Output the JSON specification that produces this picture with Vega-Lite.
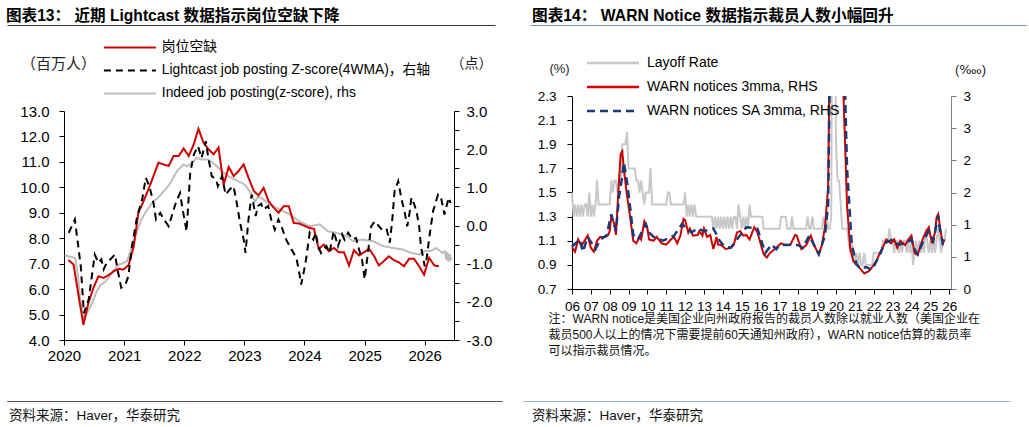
{
  "$schema": "https://vega.github.io/schema/vega-lite/v6.json",
  "background": "white",
  "padding": {"left": 5, "top": 7, "right": 0, "bottom": 0},
  "config": {
    "font": "'Liberation Sans', 'Noto Sans CJK SC', sans-serif",
    "view": {"stroke": null},
    "axis": {
      "grid": false,
      "domainColor": "#000",
      "tickColor": "#000",
      "labelColor": "#000",
      "tickSize": 5,
      "labelFlush": false,
      "labelFont": "'Liberation Sans', 'Noto Sans CJK SC', sans-serif",
      "titleFont": "'Liberation Sans', 'DejaVu Sans', 'Noto Sans CJK SC', sans-serif",
      "titleFontWeight": "normal",
      "titleColor": "#222"
    },
    "legend": {
      "labelFont": "'Liberation Sans', 'Noto Sans CJK SC', sans-serif",
      "labelColor": "#000"
    },
    "title": {"font": "'Liberation Sans', 'Noto Sans CJK SC', sans-serif", "color": "#000"}
  },
  "datasets": {
    "jolts": [
      {"d": "2020-01-28", "v": 7.14}, {"d": "2020-02-28", "v": 6.97}, {"d": "2020-03-28", "v": 5.8}, {"d": "2020-04-28", "v": 4.6},
      {"d": "2020-05-28", "v": 5.45}, {"d": "2020-06-28", "v": 6.05}, {"d": "2020-07-28", "v": 6.5}, {"d": "2020-08-28", "v": 6.44},
      {"d": "2020-09-28", "v": 6.55}, {"d": "2020-10-28", "v": 6.7}, {"d": "2020-11-28", "v": 6.8}, {"d": "2020-12-28", "v": 6.77},
      {"d": "2021-01-28", "v": 6.95}, {"d": "2021-02-28", "v": 7.69}, {"d": "2021-03-28", "v": 9.0}, {"d": "2021-04-28", "v": 9.45},
      {"d": "2021-05-28", "v": 9.92}, {"d": "2021-06-28", "v": 10.45}, {"d": "2021-07-28", "v": 10.97}, {"d": "2021-08-28", "v": 10.9},
      {"d": "2021-09-28", "v": 10.84}, {"d": "2021-10-28", "v": 11.23}, {"d": "2021-11-28", "v": 11.23}, {"d": "2021-12-28", "v": 11.53},
      {"d": "2022-01-28", "v": 11.23}, {"d": "2022-02-28", "v": 11.7}, {"d": "2022-03-28", "v": 12.3}, {"d": "2022-04-28", "v": 11.75},
      {"d": "2022-05-28", "v": 11.5}, {"d": "2022-06-28", "v": 11.3}, {"d": "2022-07-28", "v": 11.56}, {"d": "2022-08-28", "v": 10.1},
      {"d": "2022-09-28", "v": 10.8}, {"d": "2022-10-28", "v": 10.44}, {"d": "2022-11-28", "v": 10.65}, {"d": "2022-12-28", "v": 10.9},
      {"d": "2023-01-28", "v": 10.35}, {"d": "2023-02-28", "v": 9.85}, {"d": "2023-03-28", "v": 9.68}, {"d": "2023-04-28", "v": 9.98},
      {"d": "2023-05-28", "v": 9.46}, {"d": "2023-06-28", "v": 9.2}, {"d": "2023-07-28", "v": 9.0}, {"d": "2023-08-28", "v": 9.26},
      {"d": "2023-09-28", "v": 9.26}, {"d": "2023-10-28", "v": 8.6}, {"d": "2023-11-28", "v": 8.58}, {"d": "2023-12-28", "v": 8.5},
      {"d": "2024-01-28", "v": 8.41}, {"d": "2024-02-28", "v": 8.37}, {"d": "2024-03-28", "v": 7.58}, {"d": "2024-04-28", "v": 7.75},
      {"d": "2024-05-28", "v": 7.49}, {"d": "2024-06-28", "v": 7.62}, {"d": "2024-07-28", "v": 7.45}, {"d": "2024-08-28", "v": 7.45},
      {"d": "2024-09-28", "v": 6.93}, {"d": "2024-10-28", "v": 7.53}, {"d": "2024-11-28", "v": 7.32}, {"d": "2024-12-28", "v": 7.45},
      {"d": "2025-01-28", "v": 7.58}, {"d": "2025-02-28", "v": 7.29}, {"d": "2025-03-28", "v": 6.93}, {"d": "2025-04-28", "v": 7.1},
      {"d": "2025-05-28", "v": 7.29}, {"d": "2025-06-28", "v": 7.14}, {"d": "2025-07-28", "v": 7.05}, {"d": "2025-08-28", "v": 6.9},
      {"d": "2025-09-28", "v": 7.19}, {"d": "2025-10-28", "v": 7.19}, {"d": "2025-11-28", "v": 6.9}, {"d": "2025-12-28", "v": 6.57},
      {"d": "2026-01-28", "v": 7.23}, {"d": "2026-02-28", "v": 6.93}, {"d": "2026-03-28", "v": 6.9}
    ],
    "lightcast": [
      {"d": "2020-01-30", "v": -0.19}, {"d": "2020-03-07", "v": 0.16}, {"d": "2020-04-12", "v": -1.07}, {"d": "2020-05-01", "v": -2.3},
      {"d": "2020-05-30", "v": -1.94}, {"d": "2020-06-21", "v": -1.24}, {"d": "2020-07-06", "v": -0.76}, {"d": "2020-07-28", "v": -0.98},
      {"d": "2020-08-15", "v": -0.89}, {"d": "2020-08-29", "v": -1.15}, {"d": "2020-09-16", "v": -0.98}, {"d": "2020-10-08", "v": -0.89},
      {"d": "2020-11-06", "v": -0.76}, {"d": "2020-11-21", "v": -1.15}, {"d": "2020-12-14", "v": -1.63}, {"d": "2021-01-08", "v": -1.55},
      {"d": "2021-01-26", "v": -1.33}, {"d": "2021-02-17", "v": -0.54}, {"d": "2021-03-21", "v": 0.25}, {"d": "2021-04-20", "v": 0.68},
      {"d": "2021-05-12", "v": 1.25}, {"d": "2021-06-03", "v": 1.03}, {"d": "2021-06-28", "v": 0.59}, {"d": "2021-07-13", "v": 0.16},
      {"d": "2021-08-08", "v": 0.33}, {"d": "2021-08-30", "v": 0.16}, {"d": "2021-09-28", "v": -0.02}, {"d": "2021-11-07", "v": 0.55},
      {"d": "2021-12-06", "v": 0.85}, {"d": "2021-12-20", "v": 0.47}, {"d": "2022-01-15", "v": -0.15}, {"d": "2022-02-06", "v": 1.38},
      {"d": "2022-02-28", "v": 1.86}, {"d": "2022-03-25", "v": 2.08}, {"d": "2022-04-16", "v": 1.77}, {"d": "2022-05-12", "v": 2.21},
      {"d": "2022-05-26", "v": 1.8}, {"d": "2022-06-17", "v": 1.29}, {"d": "2022-07-13", "v": 1.21}, {"d": "2022-07-24", "v": 1.03},
      {"d": "2022-08-18", "v": 1.29}, {"d": "2022-09-09", "v": 0.81}, {"d": "2022-10-05", "v": 0.95}, {"d": "2022-10-27", "v": 1.03},
      {"d": "2022-11-14", "v": 0.64}, {"d": "2022-12-06", "v": 0.07}, {"d": "2022-12-28", "v": -0.37}, {"d": "2023-01-08", "v": -0.72},
      {"d": "2023-01-26", "v": 0.16}, {"d": "2023-02-14", "v": 0.81}, {"d": "2023-03-11", "v": 0.25}, {"d": "2023-03-25", "v": 0.51},
      {"d": "2023-04-13", "v": 0.57}, {"d": "2023-04-27", "v": 0.42}, {"d": "2023-05-26", "v": 0.51}, {"d": "2023-06-13", "v": 0.16},
      {"d": "2023-07-05", "v": -0.11}, {"d": "2023-07-27", "v": 0.16}, {"d": "2023-08-14", "v": -0.02}, {"d": "2023-09-12", "v": -0.37},
      {"d": "2023-10-15", "v": -0.63}, {"d": "2023-11-13", "v": -0.85}, {"d": "2023-12-01", "v": -1.24}, {"d": "2023-12-12", "v": -1.55},
      {"d": "2023-12-27", "v": -1.24}, {"d": "2024-01-11", "v": -0.89}, {"d": "2024-02-02", "v": -0.19}, {"d": "2024-02-24", "v": -0.37},
      {"d": "2024-03-10", "v": -0.19}, {"d": "2024-03-24", "v": -0.54}, {"d": "2024-04-11", "v": -0.72}, {"d": "2024-05-14", "v": -0.54},
      {"d": "2024-06-01", "v": -0.72}, {"d": "2024-06-27", "v": -0.15}, {"d": "2024-07-23", "v": -0.54}, {"d": "2024-08-17", "v": -0.23},
      {"d": "2024-09-01", "v": -0.37}, {"d": "2024-09-23", "v": -0.19}, {"d": "2024-10-19", "v": -0.37}, {"d": "2024-11-10", "v": -0.33},
      {"d": "2024-11-28", "v": -0.63}, {"d": "2024-12-16", "v": -0.89}, {"d": "2025-01-01", "v": -1.41}, {"d": "2025-01-12", "v": -1.02},
      {"d": "2025-01-26", "v": -0.54}, {"d": "2025-02-10", "v": -0.02}, {"d": "2025-03-04", "v": 0.11}, {"d": "2025-03-29", "v": -0.02},
      {"d": "2025-04-24", "v": -0.15}, {"d": "2025-05-16", "v": -0.11}, {"d": "2025-06-03", "v": -0.45}, {"d": "2025-06-18", "v": 0.16},
      {"d": "2025-07-02", "v": 0.9}, {"d": "2025-07-24", "v": 1.16}, {"d": "2025-08-11", "v": 0.73}, {"d": "2025-09-02", "v": 0.33},
      {"d": "2025-09-17", "v": -0.02}, {"d": "2025-10-01", "v": 0.33}, {"d": "2025-10-12", "v": 0.73}, {"d": "2025-10-30", "v": 0.55},
      {"d": "2025-11-14", "v": 0.33}, {"d": "2025-11-28", "v": -0.02}, {"d": "2025-12-09", "v": -0.54}, {"d": "2026-01-01", "v": -1.07},
      {"d": "2026-01-12", "v": -0.89}, {"d": "2026-01-30", "v": -0.28}, {"d": "2026-02-21", "v": 0.38}, {"d": "2026-03-23", "v": 0.81},
      {"d": "2026-04-10", "v": 0.73}, {"d": "2026-05-01", "v": 0.29}, {"d": "2026-05-27", "v": 0.73}, {"d": "2026-06-07", "v": 0.59}
    ],
    "indeed": [
      {"d": "2020-01-05", "v": -0.78}, {"d": "2020-01-30", "v": -0.81}, {"d": "2020-02-25", "v": -0.83}, {"d": "2020-03-10", "v": -0.87},
      {"d": "2020-03-25", "v": -1.3}, {"d": "2020-04-10", "v": -2.0}, {"d": "2020-05-01", "v": -2.42}, {"d": "2020-05-20", "v": -2.3},
      {"d": "2020-06-21", "v": -2.03}, {"d": "2020-07-15", "v": -1.75}, {"d": "2020-08-11", "v": -1.55}, {"d": "2020-09-09", "v": -1.47},
      {"d": "2020-10-19", "v": -1.24}, {"d": "2020-11-28", "v": -1.02}, {"d": "2020-12-20", "v": -1.0}, {"d": "2021-01-19", "v": -0.93},
      {"d": "2021-02-17", "v": -0.54}, {"d": "2021-03-20", "v": -0.15}, {"d": "2021-04-15", "v": 0.15}, {"d": "2021-05-08", "v": 0.33},
      {"d": "2021-06-05", "v": 0.5}, {"d": "2021-06-28", "v": 0.64}, {"d": "2021-07-25", "v": 0.72}, {"d": "2021-08-19", "v": 0.85},
      {"d": "2021-09-15", "v": 0.98}, {"d": "2021-10-09", "v": 1.12}, {"d": "2021-11-18", "v": 1.43}, {"d": "2021-12-28", "v": 1.6},
      {"d": "2022-01-15", "v": 1.55}, {"d": "2022-02-06", "v": 1.6}, {"d": "2022-03-18", "v": 1.77}, {"d": "2022-04-16", "v": 1.73},
      {"d": "2022-05-26", "v": 1.73}, {"d": "2022-07-05", "v": 1.6}, {"d": "2022-08-18", "v": 1.43}, {"d": "2022-09-27", "v": 1.29},
      {"d": "2022-11-24", "v": 1.16}, {"d": "2023-01-04", "v": 1.07}, {"d": "2023-02-10", "v": 0.85}, {"d": "2023-03-05", "v": 0.62},
      {"d": "2023-03-25", "v": 0.75}, {"d": "2023-04-15", "v": 0.72}, {"d": "2023-06-06", "v": 0.55}, {"d": "2023-08-03", "v": 0.42},
      {"d": "2023-10-04", "v": 0.29}, {"d": "2023-12-01", "v": 0.11}, {"d": "2024-02-02", "v": -0.02}, {"d": "2024-04-04", "v": 0.03},
      {"d": "2024-05-22", "v": -0.15}, {"d": "2024-07-12", "v": -0.19}, {"d": "2024-09-13", "v": -0.28}, {"d": "2024-10-23", "v": -0.41},
      {"d": "2024-12-20", "v": -0.37}, {"d": "2025-02-21", "v": -0.41}, {"d": "2025-04-24", "v": -0.54}, {"d": "2025-06-22", "v": -0.59},
      {"d": "2025-08-22", "v": -0.63}, {"d": "2025-10-12", "v": -0.72}, {"d": "2025-11-28", "v": -0.76}, {"d": "2026-01-01", "v": -0.67},
      {"d": "2026-02-06", "v": -0.67}, {"d": "2026-03-10", "v": -0.59}, {"d": "2026-04-20", "v": -0.72}, {"d": "2026-05-05", "v": -0.68},
      {"d": "2026-05-12", "v": -0.9}, {"d": "2026-05-19", "v": -0.7}, {"d": "2026-05-26", "v": -0.95}, {"d": "2026-06-02", "v": -0.75},
      {"d": "2026-06-09", "v": -0.88}, {"d": "2026-06-14", "v": -0.85}
    ],
    "layoff": [
      {"d": "2006-01-01", "v": 1.5}, {"d": "2006-02-01", "v": 1.3}, {"d": "2006-03-01", "v": 1.4}, {"d": "2006-04-01", "v": 1.3}, {"d": "2006-05-01", "v": 1.4}, {"d": "2006-06-01", "v": 1.3},
      {"d": "2006-07-01", "v": 1.4}, {"d": "2006-08-01", "v": 1.3}, {"d": "2006-09-01", "v": 1.4}, {"d": "2006-10-01", "v": 1.4}, {"d": "2006-11-01", "v": 1.3}, {"d": "2006-12-01", "v": 1.5},
      {"d": "2007-01-01", "v": 1.3}, {"d": "2007-02-01", "v": 1.4}, {"d": "2007-03-01", "v": 1.3}, {"d": "2007-04-01", "v": 1.4}, {"d": "2007-05-01", "v": 1.6}, {"d": "2007-06-01", "v": 1.4},
      {"d": "2007-07-01", "v": 1.4}, {"d": "2007-08-01", "v": 1.4}, {"d": "2007-09-01", "v": 1.4}, {"d": "2007-10-01", "v": 1.4}, {"d": "2007-11-01", "v": 1.4}, {"d": "2007-12-01", "v": 1.4},
      {"d": "2008-01-01", "v": 1.4}, {"d": "2008-02-01", "v": 1.6}, {"d": "2008-03-01", "v": 1.5}, {"d": "2008-04-01", "v": 1.6}, {"d": "2008-05-01", "v": 1.6}, {"d": "2008-06-01", "v": 1.5},
      {"d": "2008-07-01", "v": 1.6}, {"d": "2008-08-01", "v": 1.6}, {"d": "2008-09-01", "v": 1.9}, {"d": "2008-10-01", "v": 1.9}, {"d": "2008-11-01", "v": 1.9}, {"d": "2008-12-01", "v": 2.0},
      {"d": "2009-01-01", "v": 1.7}, {"d": "2009-02-01", "v": 1.7}, {"d": "2009-03-01", "v": 1.7}, {"d": "2009-04-01", "v": 1.7}, {"d": "2009-05-01", "v": 1.7}, {"d": "2009-06-01", "v": 1.6},
      {"d": "2009-07-01", "v": 1.6}, {"d": "2009-08-01", "v": 1.5}, {"d": "2009-09-01", "v": 1.6}, {"d": "2009-10-01", "v": 1.5}, {"d": "2009-11-01", "v": 1.4}, {"d": "2009-12-01", "v": 1.5},
      {"d": "2010-01-01", "v": 1.5}, {"d": "2010-02-01", "v": 1.5}, {"d": "2010-03-01", "v": 1.7}, {"d": "2010-04-01", "v": 1.4}, {"d": "2010-05-01", "v": 1.4}, {"d": "2010-06-01", "v": 1.4},
      {"d": "2010-07-01", "v": 1.4}, {"d": "2010-08-01", "v": 1.4}, {"d": "2010-09-01", "v": 1.4}, {"d": "2010-10-01", "v": 1.4}, {"d": "2010-11-01", "v": 1.4}, {"d": "2010-12-01", "v": 1.4},
      {"d": "2011-01-01", "v": 1.4}, {"d": "2011-02-01", "v": 1.5}, {"d": "2011-03-01", "v": 1.5}, {"d": "2011-04-01", "v": 1.4}, {"d": "2011-05-01", "v": 1.4}, {"d": "2011-06-01", "v": 1.4},
      {"d": "2011-07-01", "v": 1.4}, {"d": "2011-08-01", "v": 1.4}, {"d": "2011-09-01", "v": 1.4}, {"d": "2011-10-01", "v": 1.4}, {"d": "2011-11-01", "v": 1.4}, {"d": "2011-12-01", "v": 1.4},
      {"d": "2012-01-01", "v": 1.5}, {"d": "2012-02-01", "v": 1.3}, {"d": "2012-03-01", "v": 1.4}, {"d": "2012-04-01", "v": 1.3}, {"d": "2012-05-01", "v": 1.4}, {"d": "2012-06-01", "v": 1.3},
      {"d": "2012-07-01", "v": 1.4}, {"d": "2012-08-01", "v": 1.3}, {"d": "2012-09-01", "v": 1.3}, {"d": "2012-10-01", "v": 1.3}, {"d": "2012-11-01", "v": 1.3}, {"d": "2012-12-01", "v": 1.3},
      {"d": "2013-01-01", "v": 1.3}, {"d": "2013-02-01", "v": 1.3}, {"d": "2013-03-01", "v": 1.3}, {"d": "2013-04-01", "v": 1.3}, {"d": "2013-05-01", "v": 1.3}, {"d": "2013-06-01", "v": 1.3},
      {"d": "2013-07-01", "v": 1.2}, {"d": "2013-08-01", "v": 1.3}, {"d": "2013-09-01", "v": 1.2}, {"d": "2013-10-01", "v": 1.3}, {"d": "2013-11-01", "v": 1.2}, {"d": "2013-12-01", "v": 1.3},
      {"d": "2014-01-01", "v": 1.2}, {"d": "2014-02-01", "v": 1.3}, {"d": "2014-03-01", "v": 1.2}, {"d": "2014-04-01", "v": 1.3}, {"d": "2014-05-01", "v": 1.2}, {"d": "2014-06-01", "v": 1.3},
      {"d": "2014-07-01", "v": 1.2}, {"d": "2014-08-01", "v": 1.3}, {"d": "2014-09-01", "v": 1.3}, {"d": "2014-10-01", "v": 1.2}, {"d": "2014-11-01", "v": 1.4}, {"d": "2014-12-01", "v": 1.3},
      {"d": "2015-01-01", "v": 1.2}, {"d": "2015-02-01", "v": 1.3}, {"d": "2015-03-01", "v": 1.2}, {"d": "2015-04-01", "v": 1.3}, {"d": "2015-05-01", "v": 1.2}, {"d": "2015-06-01", "v": 1.4},
      {"d": "2015-07-01", "v": 1.3}, {"d": "2015-08-01", "v": 1.3}, {"d": "2015-09-01", "v": 1.3}, {"d": "2015-10-01", "v": 1.3}, {"d": "2015-11-01", "v": 1.3}, {"d": "2015-12-01", "v": 1.3},
      {"d": "2016-01-01", "v": 1.3}, {"d": "2016-02-01", "v": 1.3}, {"d": "2016-03-01", "v": 1.2}, {"d": "2016-04-01", "v": 1.2}, {"d": "2016-05-01", "v": 1.2}, {"d": "2016-06-01", "v": 1.2},
      {"d": "2016-07-01", "v": 1.2}, {"d": "2016-08-01", "v": 1.2}, {"d": "2016-09-01", "v": 1.2}, {"d": "2016-10-01", "v": 1.2}, {"d": "2016-11-01", "v": 1.2}, {"d": "2016-12-01", "v": 1.2},
      {"d": "2017-01-01", "v": 1.2}, {"d": "2017-02-01", "v": 1.3}, {"d": "2017-03-01", "v": 1.3}, {"d": "2017-04-01", "v": 1.3}, {"d": "2017-05-01", "v": 1.3}, {"d": "2017-06-01", "v": 1.2},
      {"d": "2017-07-01", "v": 1.2}, {"d": "2017-08-01", "v": 1.2}, {"d": "2017-09-01", "v": 1.3}, {"d": "2017-10-01", "v": 1.2}, {"d": "2017-11-01", "v": 1.2}, {"d": "2017-12-01", "v": 1.2},
      {"d": "2018-01-01", "v": 1.2}, {"d": "2018-02-01", "v": 1.2}, {"d": "2018-03-01", "v": 1.2}, {"d": "2018-04-01", "v": 1.2}, {"d": "2018-05-01", "v": 1.2}, {"d": "2018-06-01", "v": 1.2},
      {"d": "2018-07-01", "v": 1.3}, {"d": "2018-08-01", "v": 1.2}, {"d": "2018-09-01", "v": 1.2}, {"d": "2018-10-01", "v": 1.3}, {"d": "2018-11-01", "v": 1.2}, {"d": "2018-12-01", "v": 1.2},
      {"d": "2019-01-01", "v": 1.2}, {"d": "2019-02-01", "v": 1.2}, {"d": "2019-03-01", "v": 1.2}, {"d": "2019-04-01", "v": 1.2}, {"d": "2019-05-01", "v": 1.3}, {"d": "2019-06-01", "v": 1.2},
      {"d": "2019-07-01", "v": 1.3}, {"d": "2019-08-01", "v": 1.2}, {"d": "2019-09-01", "v": 1.2}, {"d": "2019-10-01", "v": 1.3}, {"d": "2019-11-01", "v": 5.0}, {"d": "2019-12-01", "v": 4.0},
      {"d": "2020-01-01", "v": 1.9}, {"d": "2020-02-01", "v": 1.6}, {"d": "2020-03-01", "v": 1.6}, {"d": "2020-04-01", "v": 1.4}, {"d": "2020-05-01", "v": 1.2}, {"d": "2020-06-01", "v": 1.2},
      {"d": "2020-07-01", "v": 1.2}, {"d": "2020-08-01", "v": 1.2}, {"d": "2020-09-01", "v": 1.1}, {"d": "2020-10-01", "v": 1.0}, {"d": "2020-11-01", "v": 1.1}, {"d": "2020-12-01", "v": 1.0},
      {"d": "2021-01-01", "v": 0.9}, {"d": "2021-02-01", "v": 1.0}, {"d": "2021-03-01", "v": 0.9}, {"d": "2021-04-01", "v": 1.0}, {"d": "2021-05-01", "v": 0.9}, {"d": "2021-06-01", "v": 0.9},
      {"d": "2021-07-01", "v": 1.0}, {"d": "2021-08-01", "v": 0.9}, {"d": "2021-09-01", "v": 0.9}, {"d": "2021-10-01", "v": 0.9}, {"d": "2021-11-01", "v": 0.9}, {"d": "2021-12-01", "v": 0.9},
      {"d": "2022-01-01", "v": 1.0}, {"d": "2022-02-01", "v": 1.0}, {"d": "2022-03-01", "v": 1.0}, {"d": "2022-04-01", "v": 1.0}, {"d": "2022-05-01", "v": 1.0}, {"d": "2022-06-01", "v": 1.0},
      {"d": "2022-07-01", "v": 1.1}, {"d": "2022-08-01", "v": 1.1}, {"d": "2022-09-01", "v": 1.1}, {"d": "2022-10-01", "v": 1.1}, {"d": "2022-11-01", "v": 1.2}, {"d": "2022-12-01", "v": 1.1},
      {"d": "2023-01-01", "v": 1.1}, {"d": "2023-02-01", "v": 1.0}, {"d": "2023-03-01", "v": 1.1}, {"d": "2023-04-01", "v": 1.1}, {"d": "2023-05-01", "v": 1.0}, {"d": "2023-06-01", "v": 1.1},
      {"d": "2023-07-01", "v": 1.0}, {"d": "2023-08-01", "v": 1.1}, {"d": "2023-09-01", "v": 1.1}, {"d": "2023-10-01", "v": 1.0}, {"d": "2023-11-01", "v": 1.1}, {"d": "2023-12-01", "v": 1.0},
      {"d": "2024-01-01", "v": 1.1}, {"d": "2024-02-01", "v": 0.9}, {"d": "2024-03-01", "v": 1.0}, {"d": "2024-04-01", "v": 1.1}, {"d": "2024-05-01", "v": 1.0}, {"d": "2024-06-01", "v": 1.1},
      {"d": "2024-07-01", "v": 1.0}, {"d": "2024-08-01", "v": 1.1}, {"d": "2024-09-01", "v": 1.0}, {"d": "2024-10-01", "v": 1.2}, {"d": "2024-11-01", "v": 1.1}, {"d": "2024-12-01", "v": 1.0},
      {"d": "2025-01-01", "v": 1.1}, {"d": "2025-02-01", "v": 1.0}, {"d": "2025-03-01", "v": 1.1}, {"d": "2025-04-01", "v": 1.0}, {"d": "2025-05-01", "v": 1.1}, {"d": "2025-06-01", "v": 1.2},
      {"d": "2025-07-01", "v": 1.1}, {"d": "2025-08-01", "v": 1.0}, {"d": "2025-09-01", "v": 1.1}, {"d": "2025-10-01", "v": 1.1}, {"d": "2025-11-01", "v": 1.2}
    ],
    "warn": [
      {"d": "2006-01-01", "v": 0.65}, {"d": "2006-03-01", "v": 0.58}, {"d": "2006-05-01", "v": 0.77}, {"d": "2006-07-01", "v": 0.67}, {"d": "2006-09-01", "v": 0.75}, {"d": "2006-11-01", "v": 0.83},
      {"d": "2007-01-01", "v": 0.64}, {"d": "2007-03-01", "v": 0.58}, {"d": "2007-05-01", "v": 0.75}, {"d": "2007-07-01", "v": 0.81}, {"d": "2007-10-01", "v": 0.81}, {"d": "2007-12-01", "v": 0.84},
      {"d": "2008-01-01", "v": 0.9}, {"d": "2008-02-01", "v": 1.13}, {"d": "2008-04-01", "v": 1.01}, {"d": "2008-05-01", "v": 0.84}, {"d": "2008-07-01", "v": 1.71}, {"d": "2008-08-01", "v": 2.1},
      {"d": "2008-09-01", "v": 2.14}, {"d": "2008-10-01", "v": 1.86}, {"d": "2008-12-01", "v": 1.46}, {"d": "2009-02-01", "v": 1.11}, {"d": "2009-04-01", "v": 0.75}, {"d": "2009-06-01", "v": 0.71},
      {"d": "2009-08-01", "v": 0.81}, {"d": "2009-09-01", "v": 0.77}, {"d": "2009-11-01", "v": 1.05}, {"d": "2010-01-01", "v": 0.94}, {"d": "2010-02-01", "v": 0.77}, {"d": "2010-05-01", "v": 0.75},
      {"d": "2010-07-01", "v": 0.81}, {"d": "2010-10-01", "v": 0.71}, {"d": "2011-01-01", "v": 0.69}, {"d": "2011-04-01", "v": 0.77}, {"d": "2011-06-01", "v": 0.81}, {"d": "2011-08-01", "v": 0.71},
      {"d": "2011-10-01", "v": 0.83}, {"d": "2011-12-01", "v": 1.09}, {"d": "2012-01-01", "v": 1.07}, {"d": "2012-03-01", "v": 0.88}, {"d": "2012-04-01", "v": 0.94}, {"d": "2012-06-01", "v": 0.83},
      {"d": "2012-09-01", "v": 0.84}, {"d": "2012-10-01", "v": 0.9}, {"d": "2012-12-01", "v": 0.83}, {"d": "2013-01-01", "v": 0.94}, {"d": "2013-03-01", "v": 0.81}, {"d": "2013-05-01", "v": 0.84},
      {"d": "2013-07-01", "v": 0.62}, {"d": "2013-09-01", "v": 0.81}, {"d": "2013-10-01", "v": 0.69}, {"d": "2013-12-01", "v": 0.68}, {"d": "2014-03-01", "v": 0.62}, {"d": "2014-06-01", "v": 0.64},
      {"d": "2014-08-01", "v": 0.69}, {"d": "2014-10-01", "v": 0.88}, {"d": "2014-12-01", "v": 0.9}, {"d": "2015-02-01", "v": 0.83}, {"d": "2015-04-01", "v": 0.84}, {"d": "2015-06-01", "v": 0.77},
      {"d": "2015-09-01", "v": 0.96}, {"d": "2015-11-01", "v": 0.88}, {"d": "2016-01-01", "v": 0.71}, {"d": "2016-03-01", "v": 0.54}, {"d": "2016-05-01", "v": 0.49}, {"d": "2016-07-01", "v": 0.56},
      {"d": "2016-10-01", "v": 0.62}, {"d": "2017-02-01", "v": 0.71}, {"d": "2017-05-01", "v": 0.68}, {"d": "2017-08-01", "v": 0.69}, {"d": "2017-11-01", "v": 0.84}, {"d": "2017-12-01", "v": 0.83},
      {"d": "2018-03-01", "v": 0.62}, {"d": "2018-06-01", "v": 0.68}, {"d": "2018-09-01", "v": 0.83}, {"d": "2018-11-01", "v": 0.68}, {"d": "2019-02-01", "v": 0.54}, {"d": "2019-04-01", "v": 0.68},
      {"d": "2019-06-01", "v": 0.96}, {"d": "2019-08-01", "v": 1.58}, {"d": "2019-09-01", "v": 3.6}, {"d": "2019-10-01", "v": 5.0}, {"d": "2020-01-01", "v": 5.5}, {"d": "2020-03-01", "v": 5.0},
      {"d": "2020-05-01", "v": 3.6}, {"d": "2020-07-01", "v": 2.1}, {"d": "2020-08-01", "v": 1.31}, {"d": "2020-10-01", "v": 0.64}, {"d": "2020-12-01", "v": 0.43}, {"d": "2021-02-01", "v": 0.38},
      {"d": "2021-05-01", "v": 0.3}, {"d": "2021-07-01", "v": 0.24}, {"d": "2021-10-01", "v": 0.28}, {"d": "2021-12-01", "v": 0.34}, {"d": "2022-03-01", "v": 0.45}, {"d": "2022-05-01", "v": 0.56},
      {"d": "2022-08-01", "v": 0.71}, {"d": "2022-09-01", "v": 0.77}, {"d": "2022-12-01", "v": 0.71}, {"d": "2023-02-01", "v": 0.77}, {"d": "2023-04-01", "v": 0.64}, {"d": "2023-06-01", "v": 0.75},
      {"d": "2023-09-01", "v": 0.68}, {"d": "2023-11-01", "v": 0.77}, {"d": "2024-01-01", "v": 0.83}, {"d": "2024-03-01", "v": 0.56}, {"d": "2024-05-01", "v": 0.53}, {"d": "2024-07-01", "v": 0.69},
      {"d": "2024-09-01", "v": 0.83}, {"d": "2024-12-01", "v": 0.96}, {"d": "2025-02-01", "v": 0.71}, {"d": "2025-04-01", "v": 0.88}, {"d": "2025-05-01", "v": 1.11}, {"d": "2025-06-01", "v": 1.16},
      {"d": "2025-08-01", "v": 0.84}, {"d": "2025-09-01", "v": 0.71}, {"d": "2025-10-01", "v": 0.77}
    ],
    "warnsa": [
      {"d": "2006-01-01", "v": 0.66}, {"d": "2006-06-01", "v": 0.77}, {"d": "2006-08-01", "v": 0.58}, {"d": "2006-11-01", "v": 0.81}, {"d": "2007-04-01", "v": 0.62}, {"d": "2007-07-01", "v": 0.77},
      {"d": "2007-11-01", "v": 0.83}, {"d": "2008-02-01", "v": 1.16}, {"d": "2008-05-01", "v": 0.9}, {"d": "2008-07-01", "v": 1.44}, {"d": "2008-09-01", "v": 1.76}, {"d": "2008-10-01", "v": 1.97},
      {"d": "2008-12-01", "v": 1.67}, {"d": "2009-02-01", "v": 1.26}, {"d": "2009-04-01", "v": 0.84}, {"d": "2009-07-01", "v": 0.77}, {"d": "2009-12-01", "v": 1.01}, {"d": "2010-02-01", "v": 0.88},
      {"d": "2010-05-01", "v": 0.81}, {"d": "2010-08-01", "v": 0.78}, {"d": "2010-11-01", "v": 0.75}, {"d": "2011-06-01", "v": 0.83}, {"d": "2011-11-01", "v": 1.01}, {"d": "2012-02-01", "v": 0.94},
      {"d": "2012-05-01", "v": 0.88}, {"d": "2012-09-01", "v": 0.94}, {"d": "2013-01-01", "v": 0.9}, {"d": "2013-07-01", "v": 0.94}, {"d": "2013-11-01", "v": 0.75}, {"d": "2014-02-01", "v": 0.66},
      {"d": "2014-06-01", "v": 0.64}, {"d": "2014-10-01", "v": 0.77}, {"d": "2015-04-01", "v": 0.96}, {"d": "2015-11-01", "v": 0.94}, {"d": "2016-04-01", "v": 0.56}, {"d": "2016-08-01", "v": 0.69},
      {"d": "2016-11-01", "v": 0.62}, {"d": "2017-01-01", "v": 0.68}, {"d": "2017-09-01", "v": 0.69}, {"d": "2018-01-01", "v": 0.68}, {"d": "2018-04-01", "v": 0.64}, {"d": "2018-08-01", "v": 0.83},
      {"d": "2019-02-01", "v": 0.54}, {"d": "2019-06-01", "v": 0.83}, {"d": "2019-08-01", "v": 1.31}, {"d": "2019-09-01", "v": 3.3}, {"d": "2019-10-01", "v": 5.0}, {"d": "2020-01-01", "v": 5.6},
      {"d": "2020-03-01", "v": 5.2}, {"d": "2020-06-01", "v": 3.8}, {"d": "2020-08-01", "v": 1.89}, {"d": "2020-11-01", "v": 0.69}, {"d": "2021-02-01", "v": 0.38}, {"d": "2021-05-01", "v": 0.32},
      {"d": "2021-08-01", "v": 0.34}, {"d": "2021-12-01", "v": 0.3}, {"d": "2022-04-01", "v": 0.49}, {"d": "2022-08-01", "v": 0.71}, {"d": "2023-01-01", "v": 0.77}, {"d": "2023-03-01", "v": 0.72},
      {"d": "2023-05-01", "v": 0.69}, {"d": "2023-09-01", "v": 0.71}, {"d": "2024-01-01", "v": 0.77}, {"d": "2024-03-01", "v": 0.62}, {"d": "2024-05-01", "v": 0.54}, {"d": "2024-09-01", "v": 0.77},
      {"d": "2024-12-01", "v": 0.9}, {"d": "2025-03-01", "v": 0.75}, {"d": "2025-06-01", "v": 1.14}, {"d": "2025-07-01", "v": 0.94}, {"d": "2025-09-01", "v": 0.69}, {"d": "2025-10-01", "v": 0.68}
    ]
  },
  "bounds": "flush",
  "columns": 2,
  "align": "each",
  "spacing": {"row": 61, "column": 21},
  "resolve": {"scale": {"color": "independent", "strokeDash": "independent"}},
  "concat": [
    {
      "width": 488,
      "height": 10,
      "view": {"stroke": "#333333", "strokeWidth": 1, "strokeDash": [488, 3000]},
      "data": {"values": [{}]},
      "mark": {"type": "text"},
      "encoding": {"text": {"value": ""}},
      "title": {"text": "图表13：  近期 Lightcast 数据指示岗位空缺下降", "anchor": "start", "orient": "top", "fontSize": 15.6, "fontWeight": "bold", "offset": -13, "baseline": "alphabetic", "dx": -1}
    },
    {
      "width": 503,
      "height": 10,
      "view": {"stroke": "#6d93c4", "strokeWidth": 1, "strokeDash": [0, 7, 496, 3000]},
      "data": {"values": [{}]},
      "mark": {"type": "text"},
      "encoding": {"text": {"value": ""}},
      "title": {"text": "图表14：  WARN Notice 数据指示裁员人数小幅回升", "anchor": "start", "orient": "top", "fontSize": 15.7, "fontWeight": "bold", "offset": -13, "baseline": "alphabetic", "dx": 9}
    },
    {
      "width": 447,
      "height": 244,
      "resolve": {"scale": {"y": "independent"}},
      "encoding": {
        "x": {
          "field": "d", "type": "temporal", "title": null,
          "scale": {"type": "utc", "range": [57, 447], "domain": [{"year": 2020, "month": 1, "date": 1, "utc": true}, {"year": 2026, "month": 6, "date": 28, "utc": true}]},
          "axis": {
            "values": [
              {"year": 2020, "month": 1, "date": 1, "utc": true}, {"year": 2021, "month": 1, "date": 1, "utc": true},
              {"year": 2022, "month": 1, "date": 1, "utc": true}, {"year": 2023, "month": 1, "date": 1, "utc": true},
              {"year": 2024, "month": 1, "date": 1, "utc": true}, {"year": 2025, "month": 1, "date": 1, "utc": true},
              {"year": 2026, "month": 1, "date": 1, "utc": true}
            ],
            "labelExpr": "utcFormat(datum.value, '%Y')", "labelOverlap": false, "labelFlush": false, "labelFontSize": 15, "labelPadding": 3
          }
        }
      },
      "layer": [
        {
          "data": {"name": "indeed"},
          "mark": {"type": "line", "strokeWidth": 2},
          "encoding": {
            "y": {
              "field": "v", "type": "quantitative",
              "scale": {"domain": [-3, 3], "nice": false, "zero": false, "range": [244, 15]},
              "axis": {
                "orient": "right", "values": [-3, -2.5, -2, -1.5, -1, -0.5, 0, 0.5, 1, 1.5, 2, 2.5, 3],
                "labelExpr": "datum.value % 1 === 0 ? (datum.value < 0 ? '-' : '') + format(abs(datum.value), '.1f') : ''",
                "labelOverlap": false, "labelFontSize": 15, "labelPadding": 7,
                "title": "（点）", "titleAngle": 0, "titleX": 17, "titleY": -33, "titleAlign": "center", "titleBaseline": "middle", "titleFontSize": 14
              }
            },
            "color": {
              "datum": "Indeed job posting(z-score), rhs", "type": "nominal",
              "scale": {"domain": ["岗位空缺", "Lightcast job posting Z-score(4WMA)，右轴", "Indeed job posting(z-score), rhs"], "range": ["#d00000", "#000000", "#bdbdbd"]},
              "legend": {"orient": "none", "legendX": 116, "legendY": -55.5, "title": null, "direction": "vertical", "symbolType": "M-26,0H26", "symbolSize": 4, "symbolStrokeWidth": 2, "labelFontSize": 13.8, "labelOffset": 25, "rowPadding": 8, "labelLimit": 500}
            },
            "strokeDash": {
              "datum": "Indeed job posting(z-score), rhs", "type": "nominal",
              "scale": {"domain": ["岗位空缺", "Lightcast job posting Z-score(4WMA)，右轴", "Indeed job posting(z-score), rhs"], "range": [[1, 0], [7, 5], [1, 0]]},
              "legend": {"orient": "none", "legendX": 116, "legendY": -55.5, "title": null, "direction": "vertical", "symbolType": "M-26,0H26", "symbolSize": 4, "symbolStrokeWidth": 2, "labelFontSize": 13.8, "labelOffset": 25, "rowPadding": 8, "labelLimit": 500}
            }
          }
        },
        {
          "data": {"name": "jolts"},
          "mark": {"type": "line", "strokeWidth": 2},
          "encoding": {
            "y": {
              "field": "v", "type": "quantitative",
              "scale": {"domain": [4, 13], "nice": false, "zero": false, "range": [244, 15]},
              "axis": {
                "orient": "left", "offset": -57, "values": [4, 5, 6, 7, 8, 9, 10, 11, 12, 13],
                "labelExpr": "format(datum.value, '.1f')", "labelOverlap": false,
                "labelFontSize": 15, "labelPadding": 10,
                "title": "（百万人）", "titleAngle": 0, "titleX": -6, "titleY": -33, "titleAlign": "center", "titleBaseline": "middle", "titleFontSize": 15
              }
            },
            "color": {"datum": "岗位空缺", "type": "nominal"},
            "strokeDash": {"datum": "岗位空缺", "type": "nominal"}
          }
        },
        {
          "data": {"name": "lightcast"},
          "mark": {"type": "line", "strokeWidth": 2},
          "encoding": {
            "y": {"field": "v", "type": "quantitative", "scale": {"domain": [-3, 3], "nice": false, "zero": false, "range": [244, 15]}, "axis": null},
            "color": {"datum": "Lightcast job posting Z-score(4WMA)，右轴", "type": "nominal"},
            "strokeDash": {"datum": "Lightcast job posting Z-score(4WMA)，右轴", "type": "nominal"}
          }
        }
      ]
    },
    {
      "width": 428,
      "height": 234,
      "resolve": {"scale": {"y": "independent"}},
      "encoding": {
        "x": {
          "field": "d", "type": "temporal",
          "scale": {"type": "utc", "range": [49, 428], "domain": [{"year": 2006, "month": 1, "date": 1, "utc": true}, {"year": 2026, "month": 2, "date": 5, "utc": true}]},
          "axis": {
            "offset": -41,
            "values": [
              {"year": 2006, "month": 1, "date": 1, "utc": true}, {"year": 2007, "month": 1, "date": 1, "utc": true}, {"year": 2008, "month": 1, "date": 1, "utc": true},
              {"year": 2009, "month": 1, "date": 1, "utc": true}, {"year": 2010, "month": 1, "date": 1, "utc": true}, {"year": 2011, "month": 1, "date": 1, "utc": true},
              {"year": 2012, "month": 1, "date": 1, "utc": true}, {"year": 2013, "month": 1, "date": 1, "utc": true}, {"year": 2014, "month": 1, "date": 1, "utc": true},
              {"year": 2015, "month": 1, "date": 1, "utc": true}, {"year": 2016, "month": 1, "date": 1, "utc": true}, {"year": 2017, "month": 1, "date": 1, "utc": true},
              {"year": 2018, "month": 1, "date": 1, "utc": true}, {"year": 2019, "month": 1, "date": 1, "utc": true}, {"year": 2020, "month": 1, "date": 1, "utc": true},
              {"year": 2021, "month": 1, "date": 1, "utc": true}, {"year": 2022, "month": 1, "date": 1, "utc": true}, {"year": 2023, "month": 1, "date": 1, "utc": true},
              {"year": 2024, "month": 1, "date": 1, "utc": true}, {"year": 2025, "month": 1, "date": 1, "utc": true}, {"year": 2026, "month": 1, "date": 1, "utc": true}
            ],
            "labelExpr": "utcFormat(datum.value, '%y')", "labelOverlap": false, "labelFlush": false, "labelFontSize": 13.5, "labelPadding": 5,
            "title": [
              "注：WARN notice是美国企业向州政府报告的裁员人数除以就业人数（美国企业在",
              "裁员500人以上的情况下需要提前60天通知州政府），WARN notice估算的裁员率",
              "可以指示裁员情况。"
            ],
            "titleX": 25, "titleY": 24, "titleAlign": "left", "titleAnchor": "start", "titleBaseline": "top", "titleAngle": 0,
            "titleFontSize": 12, "titleLineHeight": 16, "titleColor": "#111",
            "titleFont": "'Liberation Sans', 'Noto Sans CJK SC', sans-serif"
          }
        }
      },
      "layer": [
        {
          "data": {"name": "layoff"},
          "mark": {"type": "line", "strokeWidth": 2, "clip": true},
          "encoding": {
            "y": {
              "field": "v", "type": "quantitative",
              "scale": {"domain": [0.7, 2.3], "nice": false, "zero": false, "range": [193, 0]},
              "axis": {
                "orient": "left", "offset": -49, "values": [0.7, 0.9, 1.1, 1.3, 1.5, 1.7, 1.9, 2.1, 2.3],
                "labelExpr": "format(datum.value, '.1f')", "labelOverlap": false,
                "labelFontSize": 13.5, "labelPadding": 11,
                "title": "(%)", "titleAngle": 0, "titleX": -13, "titleY": -28, "titleAlign": "center", "titleBaseline": "middle", "titleFontSize": 13
              }
            },
            "color": {
              "datum": "Layoff Rate", "type": "nominal",
              "scale": {"domain": ["Layoff Rate", "WARN notices 3mma, RHS", "WARN notices SA 3mma, RHS"], "range": ["#c8c8c8", "#cc0000", "#1b3a7a"]},
              "legend": {"orient": "none", "legendX": 83, "legendY": -40, "title": null, "direction": "vertical", "symbolType": "M-26,0H26", "symbolSize": 4, "symbolStrokeWidth": 2.5, "labelFontSize": 14, "labelOffset": 27, "rowPadding": 10, "labelLimit": 500}
            },
            "strokeDash": {
              "datum": "Layoff Rate", "type": "nominal",
              "scale": {"domain": ["Layoff Rate", "WARN notices 3mma, RHS", "WARN notices SA 3mma, RHS"], "range": [[1, 0], [1, 0], [8, 5]]},
              "legend": {"orient": "none", "legendX": 83, "legendY": -40, "title": null, "direction": "vertical", "symbolType": "M-26,0H26", "symbolSize": 4, "symbolStrokeWidth": 2.5, "labelFontSize": 14, "labelOffset": 27, "rowPadding": 10, "labelLimit": 500}
            }
          }
        },
        {
          "layer": [
            {
              "data": {"name": "warn"},
              "mark": {"type": "line", "strokeWidth": 2, "clip": true},
              "encoding": {
                "y": {
                  "field": "v", "type": "quantitative",
                  "scale": {"domain": [0, 3], "nice": false, "zero": false, "range": [193, 0]},
                  "axis": {
                    "orient": "right", "values": [0, 0.5, 1, 1.5, 2, 2.5, 3],
                    "labelExpr": "format(datum.value, '.0f')", "labelOverlap": false,
                    "labelFontSize": 13.5, "labelPadding": 7, "domainColor": "#808080", "tickColor": "#808080",
                    "title": "(‱)", "titleAngle": 0, "titleX": 19, "titleY": -27, "titleAlign": "center", "titleBaseline": "middle", "titleFontSize": 13
                  }
                },
                "color": {"datum": "WARN notices 3mma, RHS", "type": "nominal"},
                "strokeDash": {"datum": "WARN notices 3mma, RHS", "type": "nominal"}
              }
            },
            {
              "data": {"name": "warnsa"},
              "mark": {"type": "line", "strokeWidth": 2.5, "clip": true},
              "encoding": {
                "y": {
                  "field": "v", "type": "quantitative",
                  "scale": {"domain": [0, 3], "nice": false, "zero": false, "range": [193, 0]},
                  "axis": {
                    "orient": "right", "values": [0, 0.5, 1, 1.5, 2, 2.5, 3],
                    "labelExpr": "format(datum.value, '.0f')", "labelOverlap": false,
                    "labelFontSize": 13.5, "labelPadding": 7, "domainColor": "#808080", "tickColor": "#808080",
                    "title": "(‱)", "titleAngle": 0, "titleX": 19, "titleY": -27, "titleAlign": "center", "titleBaseline": "middle", "titleFontSize": 13
                  }
                },
                "color": {"datum": "WARN notices SA 3mma, RHS", "type": "nominal"},
                "strokeDash": {"datum": "WARN notices SA 3mma, RHS", "type": "nominal"}
              }
            }
          ]
        }
      ]
    },
    {
      "width": 495,
      "height": 0.01,
      "view": {"stroke": "#555555", "strokeWidth": 1},
      "data": {"values": [{}]},
      "mark": {"type": "text"},
      "encoding": {"text": {"value": ""}},
      "title": {"text": "资料来源：Haver，华泰研究", "anchor": "start", "orient": "bottom", "fontSize": 13.5, "fontWeight": "normal", "offset": 3, "baseline": "top", "dx": 2, "color": "#111"}
    },
    {
      "width": 487,
      "height": 0.01,
      "view": {"stroke": "#9fb5d3", "strokeWidth": 1},
      "data": {"values": [{}]},
      "mark": {"type": "text"},
      "encoding": {"text": {"value": ""}},
      "title": {"text": "资料来源：Haver，华泰研究", "anchor": "start", "orient": "bottom", "fontSize": 13.5, "fontWeight": "normal", "offset": 3, "baseline": "top", "dx": 9, "color": "#111"}
    }
  ]
}
